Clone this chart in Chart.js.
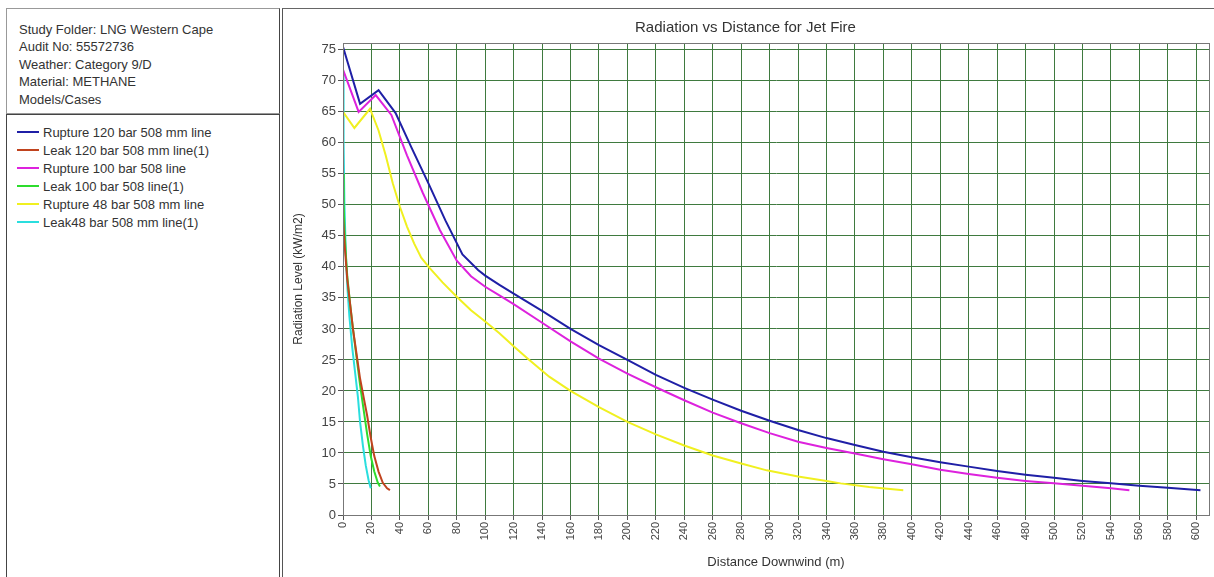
<!DOCTYPE html>
<html>
<head>
<meta charset="utf-8">
<script src="https://cdn.jsdelivr.net/npm/chart.js@4/dist/chart.umd.min.js"></script>
<style>
  body { margin: 0; background: #fff; font-family: 'Liberation Sans', Arial, sans-serif; color: #333; }
  #page { position: relative; width: 1214px; height: 577px; overflow: hidden; }
  #info { position: absolute; left: 6px; top: 8px; width: 274px; height: 106px; border: 1px solid #999; border-right: 1px solid #444; font-size: 13px; line-height: 17.4px; padding: 12px 0 0 12px; box-sizing: border-box; }
  #legendBox { position: absolute; left: 6px; top: 114px; width: 274px; height: 470px; border: 1px solid #444; border-top: 1px solid #444; box-sizing: border-box; padding-top: 8px; }
  .row { height: 18px; font-size: 13px; display: flex; align-items: center; }
  .swatch { width: 22px; height: 2px; margin: 0 4px 0 10px; }
  #chartWrap { position: absolute; left: 282px; top: 8px; width: 932px; height: 569px; border-left: 1px solid #555; border-top: 1px solid #666; box-sizing: border-box; }
  canvas { position: absolute; left: -1px; top: -1px; }
</style>
</head>
<body>
<div id="page">
  <div id="info">
    Study Folder: LNG Western Cape<br>
    Audit No: 55572736<br>
    Weather: Category 9/D<br>
    Material: METHANE<br>
    Models/Cases
  </div>
  <div id="legendBox"></div>
  <div id="chartWrap"><canvas id="chart" width="932" height="569"></canvas></div>
</div>
<script>
// tick labels / axis ranges
const xTickStep = 20;
const yTickStep = 5;

// series names and colours
const seriesNames = [
  'Rupture 120 bar 508 mm line',
  'Leak 120 bar 508 mm line(1)',
  'Rupture 100 bar 508 line',
  'Leak 100 bar 508 line(1)',
  'Rupture 48 bar 508 mm line',
  'Leak48 bar 508 mm line(1)'
];
const seriesColors = ['#1f1fa6', '#c0431e', '#dd22dd', '#2ddc2d', '#f0f020', '#2adede'];

// [distance (m), radiation (kW/m2)]
const rupture120 = [
  [0, 75.5], [12, 66.3], [25, 68.5], [37, 64.8], [48, 59.3], [60, 53.5], [72, 47.5], [84, 42],
  [95, 39.5], [100, 38.6], [110, 37.1], [120, 35.7], [140, 32.9], [160, 30], [180, 27.4], [200, 25],
  [220, 22.6], [240, 20.5], [260, 18.6], [280, 16.8], [300, 15.2], [320, 13.7], [340, 12.4],
  [360, 11.3], [380, 10.2], [400, 9.3], [420, 8.5], [440, 7.8], [460, 7.1], [480, 6.5], [500, 6],
  [520, 5.5], [540, 5.1], [560, 4.7], [580, 4.4], [603, 4.0]
];
const leak120 = [
  [0, 48], [1, 44], [2, 41], [3, 38], [5, 34], [7, 30], [9.5, 26], [12, 22], [14.5, 19], [17, 16],
  [19.5, 12.5], [22, 9.5], [25, 7], [28, 5.2], [31, 4.3], [33, 4.0]
];
const rupture100 = [
  [0, 71.8], [11, 65], [23, 67.7], [34, 64.5], [45, 58], [56, 52], [68, 46], [80, 41], [90, 38.5],
  [100, 36.8], [110, 35.4], [120, 34], [140, 31], [160, 28], [180, 25.2], [200, 22.8], [220, 20.6],
  [240, 18.5], [260, 16.5], [280, 14.8], [300, 13.2], [320, 11.8], [340, 10.8], [360, 9.9],
  [380, 9.0], [400, 8.2], [420, 7.3], [440, 6.6], [460, 6.0], [480, 5.5], [500, 5.1], [520, 4.7],
  [540, 4.3], [553, 4.0]
];
const leak100 = [
  [0, 55], [0.5, 50], [1, 46], [2, 42], [3, 38.5], [5, 34], [7, 30], [9.5, 25.5], [12, 21],
  [14.5, 17], [17, 13], [19.5, 9.5], [22, 7], [24.5, 5.2], [26, 4.6]
];
const rupture48 = [
  [0, 65], [8, 62.4], [19, 65.5], [25, 62], [30, 58], [35, 53.5], [40, 49.7], [45, 46.5], [50, 43.8],
  [55, 41.5], [61, 39.8], [70, 37.5], [80, 35.2], [90, 33], [100, 31.2], [110, 29.3], [120, 27.2],
  [130, 25.2], [145, 22.3], [160, 20], [180, 17.4], [200, 15], [220, 13], [240, 11.2], [260, 9.6],
  [280, 8.3], [298, 7.2], [320, 6.2], [340, 5.5], [350, 5.1], [370, 4.5], [394, 4.0]
];
const leak48 = [
  [0, 71], [0.4, 60], [1, 50], [2, 42], [3, 37], [4.5, 32], [6.5, 27], [8.5, 23], [10.5, 19],
  [12, 15], [14, 11.2], [16, 8], [18, 5.6], [19.5, 4.3]
];

const allSeries = [rupture120, leak120, rupture100, leak100, rupture48, leak48];

// html legend in the left panel
const legendBox = document.getElementById('legendBox');
seriesNames.forEach((name, i) => {
  const row = document.createElement('div');
  row.className = 'row';
  row.innerHTML = `<span class="swatch" style="background:${seriesColors[i]}"></span><span>${name}</span>`;
  legendBox.appendChild(row);
});

const plotFrame = {
  id: 'plotFrame',
  afterDraw(chart) {
    const a = chart.chartArea;
    const ctx = chart.ctx;
    ctx.save();
    ctx.strokeStyle = '#777';
    ctx.lineWidth = 1;
    ctx.strokeRect(Math.round(a.left) + 0.5, Math.round(a.top) + 0.5, Math.round(a.width), Math.round(a.height));
    ctx.restore();
  }
};

const font = "'Liberation Sans', Arial, sans-serif";

new Chart(document.getElementById('chart'), {
  type: 'line',
  data: {
    datasets: allSeries.map((pts, i) => ({
      label: seriesNames[i],
      data: pts.map(p => ({ x: p[0], y: p[1] })),
      borderColor: seriesColors[i],
      borderWidth: 2,
      pointRadius: 0,
      tension: 0,
      fill: false
    }))
  },
  options: {
    responsive: false,
    animation: false,
    layout: { padding: { left: 0, right: 5, top: 0, bottom: 0 } },
    plugins: {
      legend: { display: false },
      tooltip: { enabled: false },
      title: {
        display: true,
        text: 'Radiation vs Distance for Jet Fire',
        color: '#333',
        font: { family: font, size: 15, weight: 'normal' },
        padding: { top: 11, bottom: 6 }
      }
    },
    scales: {
      x: {
        type: 'linear',
        min: 0,
        max: 609,
        afterFit: s => { s.height = 62; },
        afterBuildTicks: s => { s.ticks = s.ticks.filter(t => t.value % xTickStep === 0); },
        ticks: {
          stepSize: xTickStep,
          includeBounds: false,
          minRotation: 90,
          maxRotation: 90,
          padding: 2,
          color: '#444',
          font: { family: font, size: 11 }
        },
        grid: { color: '#3f7a3f', lineWidth: 1, tickLength: 5, tickColor: '#555' },
        border: { color: '#555' },
        title: {
          display: true,
          text: 'Distance Downwind (m)',
          color: '#333',
          font: { family: font, size: 13 },
          padding: { top: 0, bottom: 7 }
        }
      },
      y: {
        type: 'linear',
        min: 0,
        max: 76.1,
        afterFit: s => { s.width = 61; },
        afterBuildTicks: s => { s.ticks = s.ticks.filter(t => t.value % yTickStep === 0); },
        ticks: {
          stepSize: yTickStep,
          includeBounds: false,
          padding: 2,
          color: '#444',
          font: { family: font, size: 13 }
        },
        grid: { color: '#3f7a3f', lineWidth: 1, tickLength: 5, tickColor: '#555' },
        border: { color: '#555' },
        title: {
          display: true,
          text: 'Radiation Level (kW/m2)',
          color: '#333',
          font: { family: font, size: 12 },
          padding: { top: 9, bottom: 0 }
        }
      }
    }
  },
  plugins: [plotFrame]
});
</script>
</body>
</html>
